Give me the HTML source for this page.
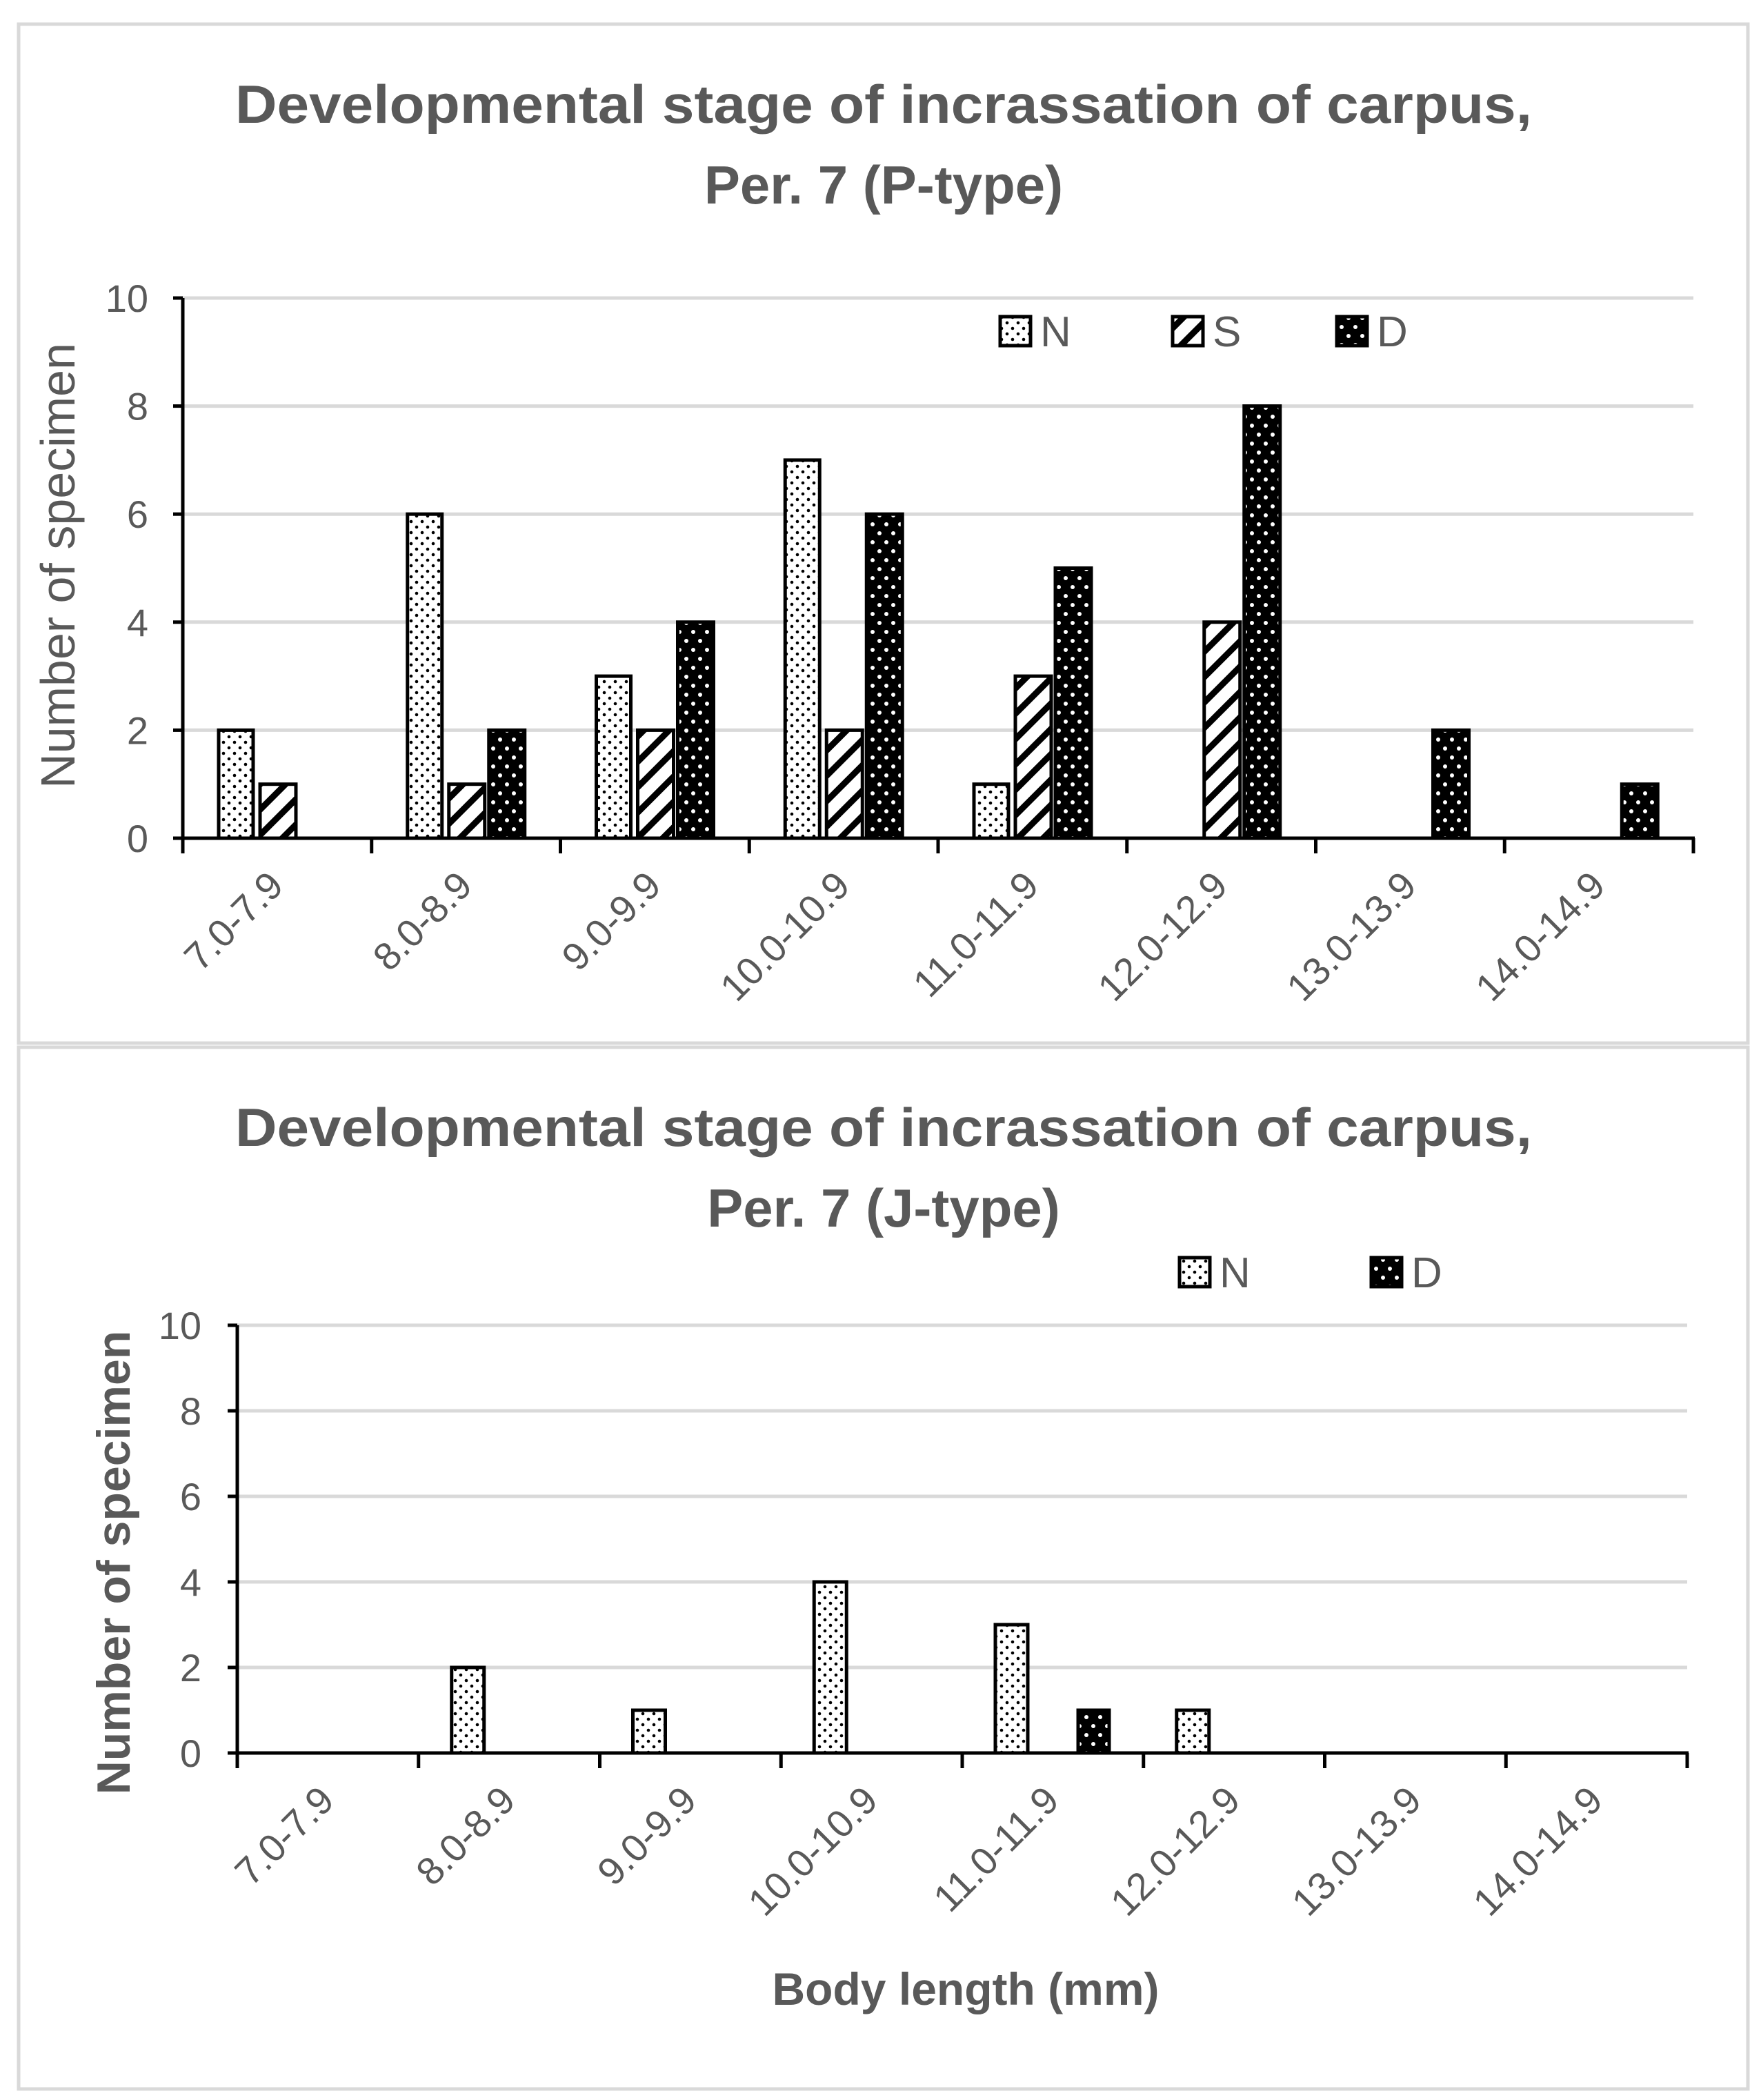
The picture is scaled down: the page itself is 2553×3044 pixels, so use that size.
<!DOCTYPE html>
<html><head><meta charset="utf-8"><style>
html,body{margin:0;padding:0;background:#fff;}
svg{display:block;}
text{font-family:"Liberation Sans",sans-serif;}
</style></head><body>
<svg id="svg" width="2553" height="3044" viewBox="0 0 2553 3044" xmlns="http://www.w3.org/2000/svg">
<defs>
<pattern id="patN" width="16" height="16" patternUnits="userSpaceOnUse">
<rect width="16" height="16" fill="#fff"/>
<circle cx="4" cy="4" r="2.3" fill="#000"/><circle cx="12" cy="12" r="2.3" fill="#000"/>
</pattern>
<pattern id="patS" width="26" height="26" patternUnits="userSpaceOnUse" patternTransform="rotate(45)">
<rect width="26" height="26" fill="#fff"/><rect x="0" y="0" width="9" height="26" fill="#000"/>
</pattern>
<pattern id="patD" width="20" height="26" patternUnits="userSpaceOnUse">
<rect width="20" height="26" fill="#000"/>
<circle cx="5" cy="6" r="3" fill="#fff"/><circle cx="15" cy="19" r="3" fill="#fff"/>
</pattern>
</defs>
<rect x="27" y="35" width="2507" height="1477" fill="#fff" stroke="#d9d9d9" stroke-width="5"/>
<rect x="27" y="1518" width="2507" height="1510" fill="#fff" stroke="#d9d9d9" stroke-width="5"/>

<g fill="#595959" font-weight="bold" font-size="78" text-anchor="middle">
<text x="1281" y="178" textLength="1880" lengthAdjust="spacingAndGlyphs">Developmental stage of incrassation of carpus,</text>
<text x="1281" y="295">Per. 7 (P-type)</text>
</g>
<g fill="#595959" font-weight="bold" font-size="78" text-anchor="middle">
<text x="1281" y="1661" textLength="1880" lengthAdjust="spacingAndGlyphs">Developmental stage of incrassation of carpus,</text>
<text x="1281" y="1778">Per. 7 (J-type)</text>
</g>
<g id="top"></g>
<g id="bot"></g>
</svg>
<script>
const categories = ["7.0-7.9","8.0-8.9","9.0-9.9","10.0-10.9","11.0-11.9","12.0-12.9","13.0-13.9","14.0-14.9"];
const yTicks = [0,2,4,6,8,10];
const topN = [2,6,3,7,1,0,0,0];
const topS = [1,1,2,2,3,4,0,0];
const topD = [0,2,4,6,5,8,2,1];
const botN = [0,2,1,4,3,1,0,0];
const botD = [0,0,0,0,1,0,0,0];

const NS="http://www.w3.org/2000/svg";
function mk(parent,tag,attrs,txt){const e=document.createElementNS(NS,tag);for(const k in attrs)e.setAttribute(k,attrs[k]);if(txt!==undefined)e.textContent=txt;parent.appendChild(e);return e;}

function chart(g,cfg){
  const {x0,x1,y0,y10,series,prefix}=cfg;
  const cw=(x1-x0)/categories.length;
  const yS=v=>y0-(y0-y10)*v/10;
  yTicks.forEach(t=>{
    if(t>0){const gl=mk(g,'line',{x1:x0,x2:x1,y1:yS(t),y2:yS(t),stroke:'#d9d9d9','stroke-width':5});
      
      }
    const tl=mk(g,'text',{x:cfg.tickX,y:yS(t)+20,'font-size':56,fill:'#595959','text-anchor':'end'},String(t));
    
    
    const tk=mk(g,'line',{x1:x0-14,x2:x0,y1:yS(t),y2:yS(t),stroke:'#000','stroke-width':5});
    
    
  });
  series.forEach(s=>{
    s.vals.forEach((v,i)=>{
      if(v<=0)return;
      const r=mk(g,'rect',{x:x0+i*cw+s.off,y:yS(v),width:s.w,height:y0-yS(v),fill:'url(#'+s.pat+')',stroke:'#000','stroke-width':5});
      
      
    });
  });
  const ax=mk(g,'line',{x1:x0,x2:x0,y1:y10,y2:y0,stroke:'#000','stroke-width':5});
  
  
  const bx=mk(g,'line',{x1:x0-14,x2:x1+2,y1:y0,y2:y0,stroke:'#000','stroke-width':5});
  
  
  for(let i=0;i<=categories.length;i++){
    const t=mk(g,'line',{x1:x0+i*cw,x2:x0+i*cw,y1:y0,y2:y0+22,stroke:'#000','stroke-width':5});
    
    
  }
  categories.forEach((c,i)=>{
    const cx=x0+(i+0.5)*cw+12, cy=y0+72;
    const t=mk(g,'text',{x:cx,y:cy,'font-size':56,fill:'#595959','text-anchor':'end',transform:'rotate(-45 '+cx+' '+cy+')'},c);
    
    
  });
  const yt=mk(g,'text',{x:cfg.ytX,y:cfg.ytY,'font-size':cfg.ytSize,fill:'#595959','font-weight':cfg.ytBold?'bold':'normal','text-anchor':'middle',transform:'rotate(-90 '+cfg.ytX+' '+cfg.ytY+')'},'Number of specimen');
  
  
  cfg.legend.forEach(l=>{
    const lg=mk(g,'g',{});
    
    
    mk(lg,'rect',{x:l.x,y:cfg.legY,width:44,height:42,fill:'url(#'+l.pat+')',stroke:'#000','stroke-width':5});
    mk(lg,'text',{x:l.x+58,y:cfg.legY+43,'font-size':62,fill:'#595959'},l.name);
  });
}

chart(document.getElementById('top'),{prefix:'top',x0:265,x1:2455,y0:1215,y10:432,tickX:215,
  ytX:108,ytY:820,ytSize:70,ytBold:false,legY:459,
  series:[{name:'N',vals:topN,pat:'patN',off:52,w:50},{name:'S',vals:topS,pat:'patS',off:112,w:52},{name:'D',vals:topD,pat:'patD',off:170,w:52}],
  legend:[{name:'N',x:1450,pat:'patN'},{name:'S',x:1700,pat:'patS'},{name:'D',x:1938,pat:'patD'}]});

chart(document.getElementById('bot'),{prefix:'bottom',x0:344,x1:2446,y0:2541,y10:1921,tickX:292,
  ytX:188,ytY:2265,ytSize:68,ytBold:true,legY:1823,
  series:[{name:'N',vals:botN,pat:'patN',off:48,w:47},{name:'D',vals:botD,pat:'patD',off:168,w:45}],
  legend:[{name:'N',x:1710,pat:'patN'},{name:'D',x:1988,pat:'patD'}]});

const xt=mk(document.getElementById('bot'),'text',{x:1400,y:2906,'font-size':66,'font-weight':'bold',fill:'#595959','text-anchor':'middle'},'Body length (mm)');


</script>
</body></html>
